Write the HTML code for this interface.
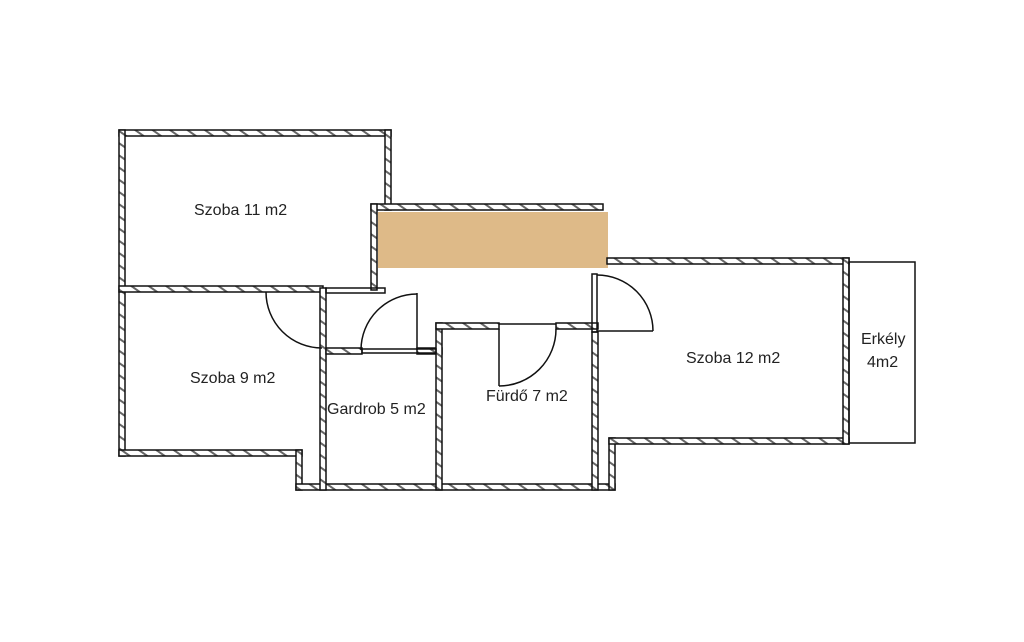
<!DOCTYPE html>
<html><head><meta charset="utf-8"><style>
html,body{margin:0;padding:0;background:#fff;}
svg{display:block}
text{font-family:"Liberation Sans",sans-serif;font-size:16px;fill:#222}
</style></head><body>
<svg width="1024" height="642" viewBox="0 0 1024 642" xmlns="http://www.w3.org/2000/svg">
<defs>
<pattern id="h" width="10" height="10" patternUnits="userSpaceOnUse" patternTransform="rotate(-55)">
<rect width="10" height="10" fill="#fff"/>
<rect x="0" y="0" width="2" height="10" fill="#666"/>
</pattern>
</defs>
<rect x="378" y="212" width="230" height="56" fill="#deba88"/>
<g fill="url(#h)" stroke="#111" stroke-width="1.5">
<rect x="119" y="130" width="272" height="6"/>
<rect x="119" y="130" width="6" height="326"/>
<rect x="385" y="130" width="6" height="80"/>
<rect x="371" y="204" width="232" height="6"/>
<rect x="371" y="204" width="6" height="86"/>
<rect x="119" y="286" width="204" height="6"/>
<rect x="119" y="450" width="183" height="6"/>
<rect x="296" y="450" width="6" height="40"/>
<rect x="296" y="484" width="319" height="6"/>
<rect x="320" y="288" width="6" height="202"/>
<rect x="326" y="348" width="36" height="6"/>
<rect x="417" y="348" width="25" height="6"/>
<rect x="436" y="323" width="6" height="167"/>
<rect x="436" y="323" width="63" height="6"/>
<rect x="556" y="323" width="42" height="6"/>
<rect x="592" y="332" width="6" height="158"/>
<rect x="609" y="438" width="6" height="52"/>
<rect x="609" y="438" width="240" height="6"/>
<rect x="607" y="258" width="242" height="6"/>
<rect x="843" y="258" width="6" height="186"/>
</g>
<g fill="none" stroke="#111" stroke-width="1.5">
<rect x="326" y="288" width="59" height="5"/>
<rect x="362" y="349" width="74" height="4"/>
<rect x="592" y="274" width="5" height="58"/>
<rect x="849" y="262" width="66" height="181"/>
<line x1="499" y1="324" x2="556" y2="324"/>
<path d="M266 292 A56 56 0 0 0 322 348"/>
<line x1="417" y1="293" x2="417" y2="350"/>
<path d="M417 294 A56 56 0 0 0 361 350"/>
<line x1="499" y1="329" x2="499" y2="386"/>
<path d="M499 386 A57 57 0 0 0 556 329"/>
<line x1="597" y1="331" x2="653" y2="331"/>
<path d="M597 275 A56 56 0 0 1 653 331"/>
</g>
<text x="194" y="215">Szoba 11 m2</text>
<text x="190" y="383">Szoba 9 m2</text>
<text x="327" y="414">Gardrob 5 m2</text>
<text x="486" y="401">Fürdő 7 m2</text>
<text x="686" y="363">Szoba 12 m2</text>
<text x="861" y="344">Erkély</text>
<text x="867" y="367">4m2</text>
</svg>
</body></html>
